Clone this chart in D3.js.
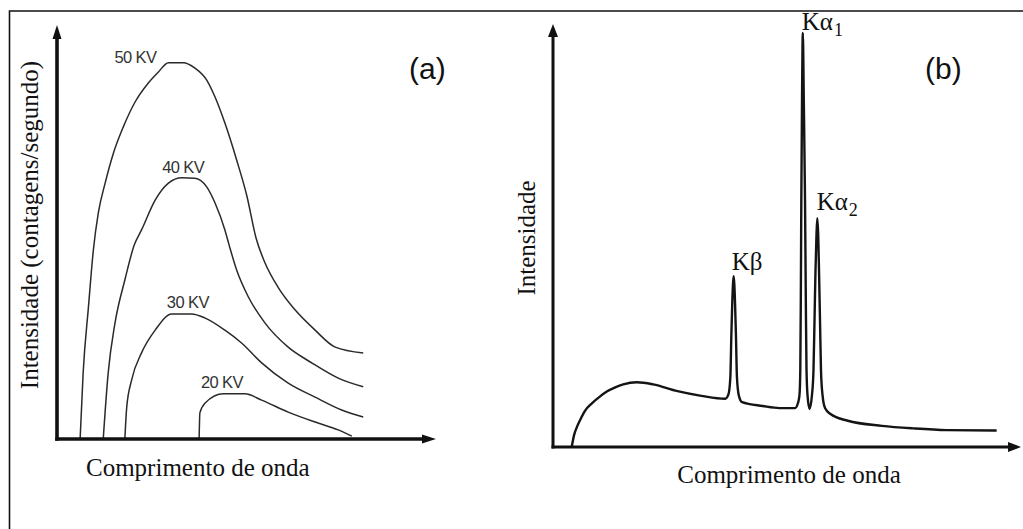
<!DOCTYPE html>
<html>
<head>
<meta charset="utf-8">
<script src="https://cdn.jsdelivr.net/npm/d3@7"></script>
<style>
  html, body { margin: 0; padding: 0; background: #fff; }
  svg { display: block; }
</style>
</head>
<body>
<svg id="fig" width="1023" height="529"></svg>
<script>
// ---- (a) continuous spectrum for several tube voltages, relative units [wavelength, intensity]
const kv50 = [[6.1,0],[6.9,16.0],[8.3,31.9],[9.6,45.7],[10.9,54.6],[12.7,61.8],[14.9,69.1],[17.5,75.4],
  [20.6,81.4],[24.1,86.0],[26.7,88.6],[29.4,90.9],[33.3,90.9],[36.4,89.6],[39.5,86.7],[41.7,82.6],
  [44.3,76.3],[47.4,67.4],[50.1,58.7],[52.5,48.6],[54.9,42.5],[58.3,36.7],[62.8,31.2],[68.1,26.3],
  [73.4,22.2],[80.8,20.8]];
const kv40 = [[12.2,0],[13.5,15.9],[15.3,28.0],[17.9,38.4],[20.4,46.9],[22.3,50.5],[25.9,57.7],[29.4,61.8],
  [32.9,63.1],[36.4,63.0],[39.5,60.9],[41.7,57.0],[44.3,50.5],[45.4,46.9],[47.4,40.8],[50.5,34.3],
  [54.9,28.0],[61.0,22.2],[67.2,18.4],[74.2,14.7],[80.8,12.6]];
const kv30 = [[17.9,0],[18.4,7.7],[19.7,14.3],[22.3,20.8],[25.9,26.3],[30.3,30.2],[35.5,30.2],[39.1,29.2],
  [44.3,26.3],[48.7,23.2],[54.0,18.4],[61.0,13.5],[68.1,10.1],[75.1,7.0],[80.8,5.3]];
const kv20 = [[37.5,0],[37.7,6.3],[39.1,8.7],[43.9,10.9],[49.6,10.9],[54.0,9.4],[61.0,6.5],[68.1,4.1],
  [74.2,2.2],[77.8,0.7]];
const kvNames = ["50 KV", "40 KV", "30 KV", "20 KV"];

// ---- (b) continuum plus characteristic lines, relative units [wavelength, intensity]
const spectrum = [[4.0,0],[4.5,2.8],[5.1,4.7],[5.8,6.4],[6.8,8.5],[8.3,10.3],[10.0,11.9],[11.5,13.1],
  [13.3,14.1],[15.0,14.8],[17.9,15.3],[21.4,14.8],[26.6,13.2],[31.7,12.1],[36.8,11.4],
  [37.5,12.5],[37.9,16.6],[38.1,26.0],[38.3,34.0],[38.6,40.4],[38.9,34.0],[39.1,26.0],[39.3,16.6],
  [39.7,12.2],[40.4,10.6],[44.8,9.7],[48.4,9.2],[51.7,9.2],
  [52.35,10.4],[52.67,12.3],[52.84,18.2],[52.95,34.8],[53.06,58.4],[53.21,82.0],[53.38,97.9],
  [53.59,82.0],[53.85,58.4],[54.02,34.8],[54.17,18.2],[54.38,12.3],[54.81,9.0],
  [55.34,12.3],[55.66,18.2],[55.88,30.0],[56.09,41.8],[56.30,50.1],[56.47,54.1],[56.67,50.1],
  [56.84,41.8],[57.05,30.0],[57.26,18.2],[57.59,12.3],[58.12,9.2],[59.3,7.8],[63.0,6.2],
  [70.3,5.0],[77.0,4.4],[84.1,4.0],[94.8,3.9]];
const lineNames = ["Kβ", "Kα", "Kα"];
const lineSubs = ["", "1", "2"];

const panelTags = ["(a)", "(b)"];
const xTitle = "Comprimento de onda";
const yTitles = ["Intensidade (contagens/segundo)", "Intensidade"];

const SERIF = "'Liberation Serif', 'Times New Roman', serif";
const SANS = "'Liberation Sans', Arial, sans-serif";

const svg = d3.select("#fig");

// outer frame (left and top edges)
svg.append("path")
  .attr("d", "M9.5,529V11H1023")
  .attr("fill", "none").attr("stroke", "#111").attr("stroke-width", 1.6);

// axis pair with arrowheads, drawn from the scales' ranges
function arrowAxes(g, x, y, width, headLen, headHalf) {
  const [x0, x1] = x.range();
  const [y0, y1] = y.range();
  g.append("line").attr("x1", x0 - width / 2).attr("x2", x1 - headLen + 1)
    .attr("y1", y0).attr("y2", y0).attr("stroke", "#111").attr("stroke-width", width);
  g.append("line").attr("x1", x0).attr("x2", x0)
    .attr("y1", y0 + width / 2).attr("y2", y1 + headLen - 1).attr("stroke", "#111").attr("stroke-width", width);
  g.append("path")
    .attr("d", `M${x1},${y0}L${x1 - headLen},${y0 - headHalf}L${x1 - headLen},${y0 + headHalf}Z`)
    .attr("fill", "#111");
  g.append("path")
    .attr("d", `M${x0},${y1}L${x0 - headHalf},${y1 + headLen}L${x0 + headHalf},${y1 + headLen}Z`)
    .attr("fill", "#111");
}

// ================= panel (a) =================
const ga = svg.append("g");
const xa = d3.scaleLinear().domain([0, 100]).range([57, 436]);
const ya = d3.scaleLinear().domain([0, 100]).range([439, 25]);

const lineA = d3.line().x(d => xa(d[0])).y(d => ya(d[1])).curve(d3.curveMonotoneX);
const kvSeries = [kv50, kv40, kv30, kv20];

ga.selectAll("path.kv").data(kvSeries).join("path")
  .attr("class", "kv")
  .attr("d", lineA)
  .attr("fill", "none").attr("stroke", "#2a2a2a").attr("stroke-width", 1.5);

arrowAxes(ga, xa, ya, 3.6, 14, 4.5);

// voltage labels, placed relative to the top of each curve
const kvLabelOffset = [
  { dx: -12, dy: 0.5, anchor: "end" },
  { dx: 1.5, dy: -5, anchor: "middle" },
  { dx: 16, dy: -6, anchor: "middle" },
  { dx: -1.5, dy: -6, anchor: "middle" }
];
kvSeries.forEach((s, i) => {
  const top = s.reduce((a, b) => (b[1] > a[1] ? b : a));
  const o = kvLabelOffset[i];
  ga.append("text")
    .attr("x", xa(top[0]) + o.dx).attr("y", ya(top[1]) + o.dy)
    .attr("text-anchor", o.anchor)
    .attr("font-family", SANS).attr("font-size", 16.5).attr("letter-spacing", -0.6)
    .attr("fill", "#333")
    .text(kvNames[i]);
});

ga.append("text").attr("x", 409).attr("y", 78.5)
  .attr("font-family", SANS).attr("font-size", 30).attr("fill", "#111")
  .text(panelTags[0]);

ga.append("text").attr("x", 86).attr("y", 476)
  .attr("font-family", SERIF).attr("font-size", 25).attr("fill", "#111")
  .text(xTitle);

ga.append("text").attr("transform", "translate(38,225) rotate(-90)")
  .attr("text-anchor", "middle")
  .attr("font-family", SERIF).attr("font-size", 25).attr("fill", "#111")
  .text(yTitles[0]);

// ================= panel (b) =================
const gb = svg.append("g");
const xb = d3.scaleLinear().domain([0, 100]).range([553, 1021]);
const yb = d3.scaleLinear().domain([0, 100]).range([447, 24]);

const lineB = d3.line().x(d => xb(d[0])).y(d => yb(d[1])).curve(d3.curveMonotoneX);
gb.append("path").datum(spectrum)
  .attr("d", lineB)
  .attr("fill", "none").attr("stroke", "#141414").attr("stroke-width", 2.4)
  .attr("stroke-linejoin", "round");

arrowAxes(gb, xb, yb, 3, 13, 5);

// characteristic line labels at the local maxima of the spectrum
const peaks = spectrum.filter((d, i) =>
  i > 0 && i < spectrum.length - 1 && d[1] > 20 &&
  d[1] > spectrum[i - 1][1] && d[1] > spectrum[i + 1][1]);
const peakLabelOffset = [{ dx: -2, dy: -6 }, { dx: -1, dy: -3 }, { dx: -0.6, dy: -8 }];
peaks.forEach((p, i) => {
  const o = peakLabelOffset[i];
  const t = gb.append("text")
    .attr("x", xb(p[0]) + o.dx).attr("y", yb(p[1]) + o.dy)
    .attr("font-family", SERIF).attr("font-size", 25).attr("fill", "#111")
    .text(lineNames[i]);
  if (lineSubs[i]) {
    t.append("tspan").attr("dy", 6).attr("dx", 1).attr("font-size", 18).text(lineSubs[i]);
  }
});

gb.append("text").attr("x", 925).attr("y", 78.5)
  .attr("font-family", SANS).attr("font-size", 30).attr("fill", "#111")
  .text(panelTags[1]);

gb.append("text").attr("x", 789).attr("y", 483)
  .attr("text-anchor", "middle")
  .attr("font-family", SERIF).attr("font-size", 25).attr("fill", "#111")
  .text(xTitle);

gb.append("text").attr("transform", "translate(535,238) rotate(-90)")
  .attr("text-anchor", "middle")
  .attr("font-family", SERIF).attr("font-size", 25).attr("fill", "#111")
  .text(yTitles[1]);
</script>
</body>
</html>
